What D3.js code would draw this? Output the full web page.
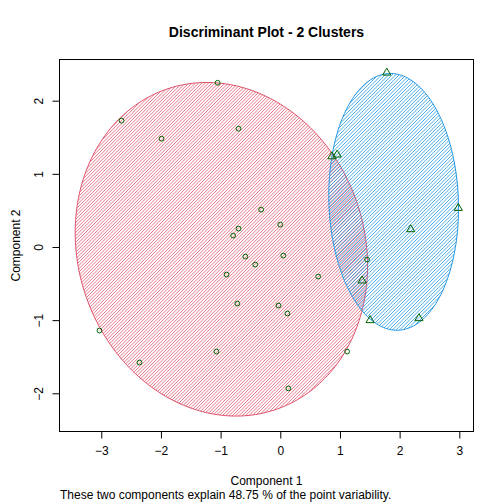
<!DOCTYPE html>
<html>
<head>
<meta charset="utf-8">
<script src="https://cdn.jsdelivr.net/npm/d3@7"></script>
<style>
  body { margin: 0; background: #fff; }
  svg text { font-family: "Liberation Sans", Arial, sans-serif; fill: #000; }
</style>
</head>
<body>
<div id="chart"></div>
<script>
// cluster 1 points (circles)
const clus1X = [-1.05, -2.66, -0.70, -1.99, -0.32, 0.00, -0.70, -0.79, -0.585, 0.05, -0.42,
  -0.90, 0.635, -0.72, -0.03, 0.12, -3.03, -1.07, 1.12, -2.36, 0.135, 1.455];
const clus1Y = [2.245, 1.727, 1.617, 1.481, 0.511, 0.306, 0.251, 0.156, -0.131, -0.117, -0.24,
  -0.377, -0.404, -0.773, -0.80, -0.909, -1.142, -1.429, -1.429, -1.579, -1.933, -0.171];

// cluster 2 points (triangles)
const clus2X = [1.784, 0.865, 0.953, 2.983, 2.186, 1.371, 1.505, 2.324];
const clus2Y = [2.383, 1.239, 1.262, 0.533, 0.242, -0.459, -1.001, -0.974];

// spanning ellipses: centre, half-extent in x / y, correlation
const ellCx = [-0.987, 1.90];
const ellCy = [-0.031, 0.617];
const ellSx = [2.45, 1.087];
const ellSy = [2.28, 1.755];
const ellRho = [-0.1, -0.05];

const xTicks = [-3, -2, -1, 0, 1, 2, 3];
const yTicks = [-2, -1, 0, 1, 2];

const width = 504;
const height = 504;
const plot = { left: 59.5, right: 473.5, top: 59.5, bottom: 431.5 };
const colors = ['#DF536B', '#2297E6'];
const hatchGap = [3.3, 3.5];
const pointColor = '#006400';

const xScale = d3.scaleLinear().domain([-3.700, 3.238]).range([plot.left, plot.right]);
const yScale = d3.scaleLinear().domain([-2.522, 2.563]).range([plot.bottom, plot.top]);

const svg = d3.select('#chart').append('svg')
  .attr('width', width)
  .attr('height', height);

const defs = svg.append('defs');

function ellipsePoints(i) {
  const pts = [];
  const r = ellRho[i];
  for (let k = 0; k < 240; k += 1) {
    const t = (k / 240) * 2 * Math.PI;
    pts.push([
      ellCx[i] + ellSx[i] * Math.cos(t),
      ellCy[i] + ellSy[i] * (r * Math.cos(t) + Math.sqrt(1 - r * r) * Math.sin(t)),
    ]);
  }
  return pts;
}

const line = d3.line()
  .x(d => xScale(d[0]))
  .y(d => yScale(d[1]))
  .curve(d3.curveLinearClosed);

const plotArea = svg.append('g');

for (let i = 0; i < ellCx.length; i += 1) {
  const pts = ellipsePoints(i);
  const d = line(pts);

  defs.append('clipPath')
    .attr('id', `clip${i}`)
    .append('path')
    .attr('d', d);

  // 45 degree shading lines, clipped to the ellipse
  const px = pts.map(p => xScale(p[0]));
  const py = pts.map(p => yScale(p[1]));
  const x0 = Math.floor(d3.min(px)) - 2;
  const x1 = Math.ceil(d3.max(px)) + 2;
  const y0 = Math.floor(d3.min(py)) - 2;
  const y1 = Math.ceil(d3.max(py)) + 2;
  const h = y1 - y0;
  const starts = d3.range(x0 - h, x1, hatchGap[i]);

  plotArea.append('g')
    .attr('clip-path', `url(#clip${i})`)
    .selectAll('line')
    .data(starts)
    .enter()
    .append('line')
    .attr('x1', s => s)
    .attr('y1', y1)
    .attr('x2', s => s + h)
    .attr('y2', y0)
    .attr('stroke', colors[i])
    .attr('stroke-width', 0.8);

  plotArea.append('path')
    .attr('d', d)
    .attr('fill', 'none')
    .attr('stroke', colors[i])
    .attr('stroke-width', 1);
}

// points
plotArea.selectAll('.pt1')
  .data(clus1X.map((x, i) => [x, clus1Y[i]]))
  .enter()
  .append('circle')
  .attr('class', 'pt1')
  .attr('cx', d => xScale(d[0]))
  .attr('cy', d => yScale(d[1]))
  .attr('r', 2.4)
  .attr('fill', 'none')
  .attr('stroke', pointColor)
  .attr('stroke-width', 1);

plotArea.selectAll('.pt2')
  .data(clus2X.map((x, i) => [x, clus2Y[i]]))
  .enter()
  .append('path')
  .attr('class', 'pt2')
  .attr('transform', d => `translate(${xScale(d[0])},${yScale(d[1])})`)
  .attr('d', 'M0,-4.6L4.1,2.4L-4.1,2.4Z')
  .attr('fill', 'none')
  .attr('stroke', pointColor)
  .attr('stroke-width', 1);

// box
svg.append('rect')
  .attr('x', plot.left)
  .attr('y', plot.top)
  .attr('width', plot.right - plot.left)
  .attr('height', plot.bottom - plot.top)
  .attr('fill', 'none')
  .attr('stroke', '#000')
  .attr('stroke-width', 1);

// axes
const xAxis = d3.axisBottom(xScale).tickValues(xTicks).tickSize(7).tickPadding(8).tickFormat(d3.format('d'));
const gx = svg.append('g')
  .attr('transform', `translate(0,${plot.bottom})`)
  .call(xAxis);
gx.select('.domain').remove();
gx.selectAll('text').attr('font-size', 12).attr('font-family', '"Liberation Sans", Arial, sans-serif').attr('dy', '0.71em');

const yAxis = d3.axisLeft(yScale).tickValues(yTicks).tickSize(7).tickFormat(d3.format('d'));
const gy = svg.append('g')
  .attr('transform', `translate(${plot.left},0)`)
  .call(yAxis);
gy.select('.domain').remove();
gy.selectAll('text')
  .attr('font-size', 12)
  .attr('font-family', '"Liberation Sans", Arial, sans-serif')
  .attr('x', null)
  .attr('dy', null)
  .attr('text-anchor', 'middle')
  .attr('transform', 'translate(-17,0) rotate(-90)');

// titles
svg.append('text')
  .attr('x', 266.5)
  .attr('y', 37)
  .attr('text-anchor', 'middle')
  .attr('font-size', 14)
  .attr('font-weight', 'bold')
  .text('Discriminant Plot - 2 Clusters');

svg.append('text')
  .attr('x', 266.5)
  .attr('y', 485)
  .attr('text-anchor', 'middle')
  .attr('font-size', 12)
  .text('Component 1');

svg.append('text')
  .attr('x', 60)
  .attr('y', 499)
  .attr('font-size', 12)
  .text('These two components explain 48.75 % of the point variability.');

svg.append('text')
  .attr('transform', `translate(20,${(plot.top + plot.bottom) / 2}) rotate(-90)`)
  .attr('text-anchor', 'middle')
  .attr('font-size', 12)
  .text('Component 2');
</script>
</body>
</html>
